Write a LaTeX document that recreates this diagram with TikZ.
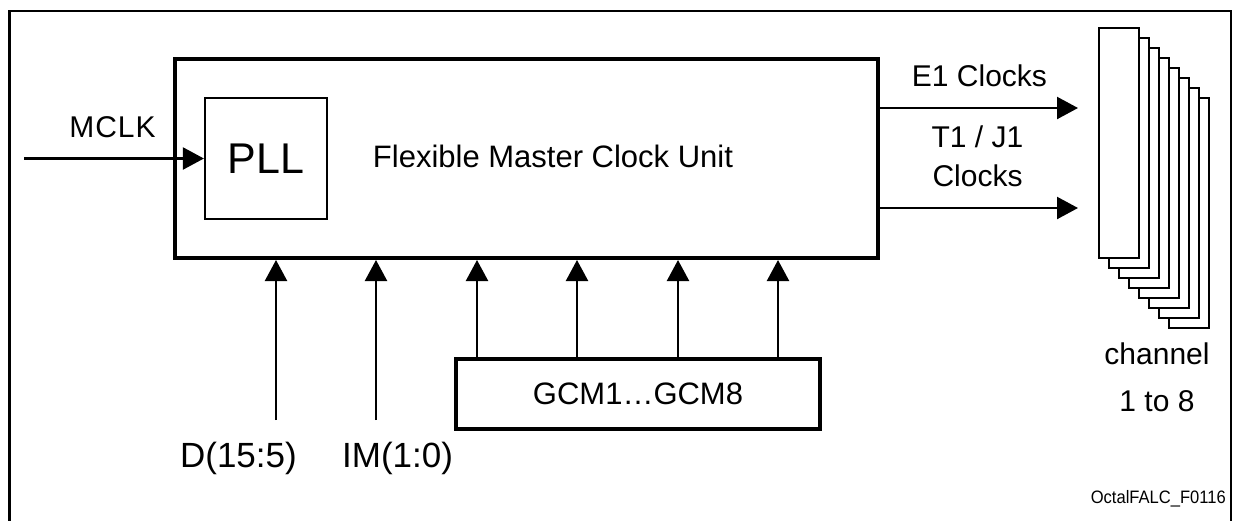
\documentclass[tikz,border=0pt]{standalone}
\usepackage{fontspec}
\setmainfont{Liberation Sans}
\usetikzlibrary{arrows.meta}
\begin{document}
\begin{tikzpicture}[x=1pt,y=-1pt,
  every node/.style={inner sep=0pt},
  frame/.style={line width=2.4pt},
  mainbox/.style={draw, line width=4pt, rectangle},
  pllbox/.style={draw, line width=2.2pt, font=\fontsize{43}{50}\selectfont},
  gcmbox/.style={draw, line width=3.3pt, font=\fontsize{31}{37}\selectfont},
  chbox/.style={draw, fill=white, line width=2.5pt, minimum width=40pt, minimum height=230pt},
  arr/.style={line width=2.3pt, -{Triangle[length=21pt,width=22pt]}},
  lbl/.style={font=\fontsize{30}{36}\selectfont},
  biglbl/.style={font=\fontsize{35}{42}\selectfont},
]
\useasboundingbox (0,0) rectangle (1235,520);
\begin{scope}
  \clip (0,0) rectangle (1235,520);
  \draw[frame] (9.5,11) rectangle (1231,530);
\end{scope}

% main unit
\node[mainbox, minimum width=703pt, minimum height=199pt] (main) at (526.5,158.5) {};
\node[pllbox, minimum width=122pt, minimum height=121pt] (pll) at (266,158.5) {PLL};
\node[lbl, font=\fontsize{31}{37}\selectfont, anchor=base] (fmcu) at (553,167) {Flexible Master Clock Unit};

% MCLK input
\coordinate (mclk) at (24,158.5);
\draw[arr] (mclk) -- (pll.west);
\node[lbl, anchor=base] (mclklbl) at (112.5,137) {M\kern1pt C\kern1pt L\kern1pt K};

% channels
\foreach \i in {7,...,0} {
  \node[chbox] (ch\i) at (1119+10*\i, 143+10*\i) {};
}
\node[lbl, align=center, font=\fontsize{30}{47}\selectfont] (chlbl) at (1157,377.5) {channel\\1 to 8};

% clock outputs
\coordinate (e1) at (1078,108);
\coordinate (t1) at (1078,208);
\draw[arr] (e1 -| main.east) -- (e1);
\draw[arr] (t1 -| main.east) -- (t1);
\node[lbl, anchor=base] (e1lbl) at (979.5,86) {E1 Clocks};
\node[lbl, align=center, font=\fontsize{30}{39}\selectfont] (t1lbl) at (977.5,156.5) {T1 / J1\\Clocks};

% GCM block
\node[gcmbox, minimum width=364pt, minimum height=70pt] (gcm) at (638,394) {GCM1…GCM8};
\foreach \x in {477,577,678,778} {
  \coordinate (gx) at (\x,0);
  \draw[arr] (gx |- gcm.north) -- (gx |- main.south);
}

% D and IM inputs
\coordinate (dbot) at (276,420);
\coordinate (imbot) at (376,420);
\draw[arr] (dbot) -- (dbot |- main.south);
\draw[arr] (imbot) -- (imbot |- main.south);
\node[biglbl, anchor=base east] (dlbl) at (297,467) {D(15:5)};
\node[biglbl, anchor=base west] (imlbl) at (342,467) {IM(1:0)};

% figure id
\node[font=\fontsize{18}{20}\selectfont, anchor=base east] (figid) at (1226,503) {\scalebox{0.92}[1]{OctalFALC\_F0116}};
\end{tikzpicture}
\end{document}
